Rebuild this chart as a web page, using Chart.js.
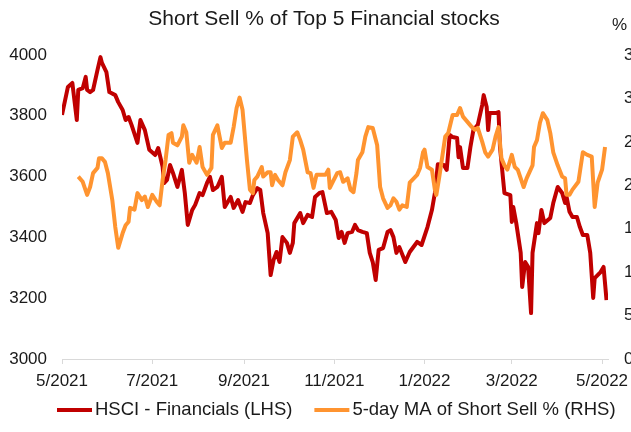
<!DOCTYPE html>
<html>
<head>
<meta charset="utf-8">
<script src="https://cdn.jsdelivr.net/npm/chart.js@4.4.0/dist/chart.umd.min.js"></script>
<style>
    html, body { margin: 0; padding: 0; background: #fff; }
    #wrap { width: 631px; height: 432px; overflow: hidden; position: relative; }
    canvas { display: block; }
</style>
</head>
<body>
<div id="wrap"><canvas id="shortSellChart" width="648" height="432"></canvas></div>
<script>
// x values are days counted from 1 May 2021
const tickDays = [0, 61, 123, 184, 245, 304, 365];
const tickLabels = ['5/2021', '7/2021', '9/2021', '11/2021', '1/2022', '3/2022', '5/2022'];

const hsciDays = [0, 4, 7, 10, 11, 14, 16, 17, 19, 21, 24, 26, 27, 30, 32, 36, 38, 41, 43, 45,
    47, 51, 53, 56, 59, 63, 65, 68, 69, 71, 73, 75, 78, 81, 83, 85, 88, 90, 93, 95,
    98, 100, 102, 105, 108, 110, 114, 116, 119, 122, 124, 127, 129, 132, 134, 136, 139, 141, 143, 145,
    147, 149, 152, 154, 156, 157, 161, 163, 166, 169, 171, 174, 176, 179, 182, 185, 187, 189, 191, 193,
    196, 198, 200, 203, 206, 208, 210, 212, 214, 217, 220, 222, 224, 226, 228, 232, 235, 240, 243, 247,
    250, 252, 254, 258, 260, 262, 264, 267, 268, 269, 271, 274, 276, 278, 281, 284, 285, 287, 288, 289,
    293, 295, 296, 299, 303, 304, 305, 307, 310, 311, 313, 315, 317, 318, 321, 322, 324, 326, 330, 332,
    335, 338, 340, 341, 343, 345, 348, 350, 352, 355, 357, 359, 360, 364, 366, 368];
const hsciValues = [3803, 3895, 3908, 3786, 3885, 3891, 3928, 3885, 3878, 3885, 3951, 3993, 3974, 3944, 3878, 3868, 3845, 3819, 3786, 3796,
    3770, 3711, 3786, 3753, 3688, 3671, 3694, 3632, 3579, 3589, 3638, 3612, 3566, 3622, 3546, 3441, 3490, 3507, 3546, 3539,
    3579, 3599, 3556, 3566, 3599, 3500, 3533, 3497, 3523, 3484, 3516, 3513, 3539, 3562, 3556, 3480, 3414, 3276, 3326, 3352,
    3319, 3401, 3382, 3349, 3382, 3447, 3480, 3447, 3474, 3467, 3533, 3546, 3549, 3480, 3484, 3457, 3398, 3418, 3382, 3414,
    3418, 3441, 3424, 3418, 3414, 3349, 3319, 3260, 3359, 3365, 3418, 3424, 3401, 3349, 3368, 3319, 3352, 3385, 3375, 3434,
    3490, 3546, 3641, 3638, 3622, 3737, 3730, 3727, 3664, 3697, 3628, 3628, 3697, 3753, 3770, 3836, 3868, 3829, 3753, 3809,
    3809, 3812, 3697, 3546, 3539, 3451, 3500, 3447, 3349, 3237, 3319, 3303, 3151, 3349, 3447, 3414, 3490, 3447, 3464, 3513,
    3566, 3546, 3513, 3533, 3484, 3467, 3467, 3434, 3408, 3408, 3349, 3201, 3266, 3286, 3303, 3194];

const maDays = [11, 14, 17, 19, 21, 24, 25, 27, 29, 31, 34, 36, 38, 41, 43, 45, 46, 49, 51, 54,
    56, 58, 61, 64, 66, 68, 70, 72, 74, 75, 78, 81, 82, 84, 86, 88, 91, 93, 95, 98,
    101, 102, 105, 108, 110, 114, 116, 118, 120, 122, 125, 127, 129, 130, 132, 135, 136, 139, 141, 142,
    144, 146, 149, 151, 154, 156, 159, 161, 163, 166, 168, 170, 172, 176, 178, 180, 181, 183, 186, 188,
    190, 193, 195, 197, 199, 200, 203, 205, 207, 210, 213, 215, 217, 220, 222, 224, 226, 228, 230, 233,
    235, 240, 242, 244, 245, 247, 250, 252, 253, 255, 259, 261, 264, 267, 269, 271, 274, 277, 279, 281,
    284, 286, 288, 291, 293, 295, 297, 299, 301, 304, 306, 308, 312, 314, 318, 319, 321, 323, 325, 328,
    330, 332, 335, 338, 340, 341, 343, 345, 349, 352, 355, 358, 360, 362, 365, 367];
const maValues = [21.0, 20.4, 18.9, 19.8, 21.4, 22.0, 23.1, 23.1, 22.7, 21.4, 18.3, 15.2, 12.8, 14.5, 15.4, 15.8, 17.4, 17.2, 19.1, 18.3,
    18.7, 17.5, 18.9, 18.1, 17.7, 20.6, 22.9, 25.8, 26.0, 24.9, 24.6, 25.6, 26.9, 26.1, 22.6, 23.5, 22.6, 24.4, 22.1, 21.2,
    22.0, 25.8, 26.9, 24.3, 24.9, 24.9, 26.7, 28.9, 30.1, 28.7, 22.9, 19.5, 19.1, 20.6, 21.0, 22.1, 21.0, 21.5, 21.5, 20.0,
    21.2, 20.6, 20.0, 21.5, 22.9, 25.6, 26.1, 25.2, 24.1, 21.5, 21.4, 19.7, 21.2, 21.2, 21.2, 21.8, 19.7, 20.4, 21.4, 21.5,
    20.4, 20.8, 19.5, 19.2, 21.4, 22.9, 23.8, 25.6, 26.7, 26.6, 24.6, 19.8, 18.5, 17.4, 17.7, 18.5, 18.1, 17.2, 17.7, 17.5,
    20.3, 21.2, 22.0, 23.8, 24.1, 22.1, 21.8, 19.5, 18.9, 21.0, 25.6, 26.0, 28.1, 28.1, 28.9, 27.9, 27.3, 26.7, 26.4, 26.6,
    25.0, 23.8, 23.3, 24.1, 25.6, 26.7, 23.1, 22.3, 21.8, 23.5, 22.1, 21.8, 19.8, 20.8, 22.3, 24.4, 25.2, 27.2, 28.3, 27.5,
    26.0, 23.8, 22.3, 21.0, 20.8, 18.9, 18.9, 19.5, 20.4, 23.8, 23.5, 23.3, 17.5, 20.3, 21.8, 24.4];

const FONT = "'Liberation Sans', Arial, sans-serif";

// "%" above the right hand axis + an Excel-like legend (short line, text right after it)
const extras = {
    id: 'extras',
    afterDraw(chart) {
        const ctx = chart.ctx;
        const s = chart.scales.y1;
        ctx.save();
        ctx.font = '17px ' + FONT;
        ctx.fillStyle = '#1a1a1a';
        ctx.textAlign = 'left';
        ctx.textBaseline = 'middle';
        ctx.fillText('%', s.left + 4, chart.chartArea.top - 30);

        ctx.font = '18.5px ' + FONT;
        let x = 57;
        const y = 410;
        chart.data.datasets.forEach(ds => {
            ctx.strokeStyle = ds.borderColor;
            ctx.lineWidth = 4;
            ctx.beginPath();
            ctx.moveTo(x, y);
            ctx.lineTo(x + 35, y);
            ctx.stroke();
            ctx.fillText(ds.label, x + 38, y);
            x += 38 + ctx.measureText(ds.label).width + 22;
        });
        ctx.restore();
    }
};

const ctx = document.getElementById('shortSellChart').getContext('2d');
new Chart(ctx, {
    type: 'line',
    data: {
        datasets: [{
            label: 'HSCI - Financials (LHS)',
            data: hsciDays.map((d, i) => ({ x: d, y: hsciValues[i] })),
            borderColor: '#C00000',
            borderWidth: 4,
            borderJoinStyle: 'round',
            pointRadius: 0,
            yAxisID: 'y',
            order: 1
        }, {
            label: '5-day MA of Short Sell % (RHS)',
            data: maDays.map((d, i) => ({ x: d, y: maValues[i] })),
            borderColor: '#FF9430',
            borderWidth: 4,
            borderJoinStyle: 'round',
            pointRadius: 0,
            yAxisID: 'y1',
            order: 0
        }]
    },
    options: {
        responsive: false,
        animation: false,
        devicePixelRatio: 1,
        layout: { padding: { left: 0, right: 0, top: 0, bottom: 33.6 } },
        scales: {
            x: {
                type: 'linear',
                min: 0,
                max: 369,
                afterBuildTicks: function(scale) {
                    scale.ticks = tickDays.map(v => ({ value: v }));
                },
                ticks: {
                    autoSkip: false,
                    maxRotation: 0,
                    padding: 7,
                    color: '#1a1a1a',
                    font: { family: FONT, size: 17 },
                    callback: function(value) {
                        const i = tickDays.indexOf(value);
                        return i >= 0 ? tickLabels[i] : '';
                    }
                },
                grid: {
                    display: true,
                    drawOnChartArea: false,
                    drawTicks: true,
                    tickLength: 5,
                    color: '#d9d9d9'
                },
                border: { display: true, color: '#d9d9d9', width: 1 }
            },
            y: {
                position: 'left',
                min: 3000,
                max: 4000,
                afterFit: function(scale) { scale.width = 62; },
                ticks: {
                    stepSize: 200,
                    padding: 15,
                    color: '#1a1a1a',
                    font: { family: FONT, size: 17 },
                    callback: v => String(v)
                },
                grid: { display: false, drawTicks: false },
                border: { display: false }
            },
            y1: {
                position: 'right',
                min: 0,
                max: 35,
                afterFit: function(scale) { scale.width = 40; },
                ticks: {
                    stepSize: 5,
                    padding: 16,
                    color: '#1a1a1a',
                    font: { family: FONT, size: 17 },
                    callback: v => String(v)
                },
                grid: { display: false, drawTicks: false },
                border: { display: false }
            }
        },
        plugins: {
            title: {
                display: true,
                text: 'Short Sell % of Top 5 Financial stocks',
                color: '#1a1a1a',
                font: { family: FONT, size: 21, weight: 'normal' },
                padding: { top: 7, bottom: 22.8 }
            },
            legend: { display: false },
            tooltip: { enabled: false }
        }
    },
    plugins: [extras]
});
</script>
</body>
</html>
